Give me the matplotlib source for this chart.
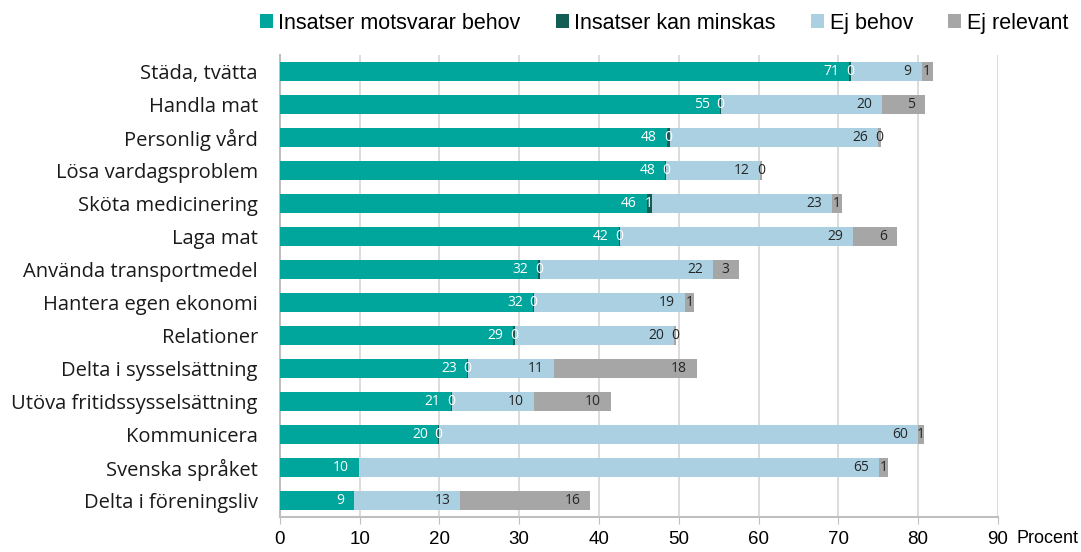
import matplotlib
matplotlib.use("Agg")
import matplotlib.pyplot as plt
import numpy as np

categories = ["Städa, tvätta", "Handla mat", "Personlig vård", "Lösa vardagsproblem",
              "Sköta medicinering", "Laga mat", "Använda transportmedel",
              "Hantera egen ekonomi", "Relationer", "Delta i sysselsättning",
              "Utöva fritidssysselsättning", "Kommunicera", "Svenska språket",
              "Delta i föreningsliv"]

motsvarar = [71.4, 55.2, 48.5, 48.3, 46.0, 42.5, 32.4, 31.7, 29.2, 23.4, 21.4, 19.8, 9.9, 9.3]
minskas = [0.15, 0.1, 0.45, 0.15, 0.6, 0.15, 0.15, 0.15, 0.3, 0.15, 0.15, 0.15, None, None]
ej_behov = [8.9, 20.2, 26.0, 11.7, 22.6, 29.2, 21.7, 18.9, 19.9, 10.8, 10.3, 60.1, 65.2, 13.3]
ej_relevant = [1.4, 5.4, 0.45, 0.3, 1.3, 5.5, 3.3, 1.2, 0.2, 17.9, 9.6, 0.7, 1.1, 16.3]

series = ["Insatser motsvarar behov", "Insatser kan minskas", "Ej behov", "Ej relevant"]
colors = ["#00a59c", "#135e54", "#abd0e2", "#a6a6a6"]
label_colors = ["white", "white", "#262626", "#262626"]

label_font = "Open Sans"
tick_font = ["Liberation Sans Narrow", "Liberation Sans", "DejaVu Sans"]

fig = plt.figure(figsize=(10.81, 5.52), dpi=100)
ax = fig.add_axes([0.259, 0.0634, 0.664, 0.837])

y = np.arange(len(categories))
left = np.zeros(len(categories))
for s, (name, vals) in enumerate(zip(series, [motsvarar, minskas, ej_behov, ej_relevant])):
    v = np.array([0 if x is None else x for x in vals], dtype=float)
    ax.barh(y, v, left=left, height=0.57, color=colors[s], label=name, zorder=3)
    for i, val in enumerate(vals):
        if val is None:
            continue
        txt = str(int(round(val)))
        if val < 2.5:
            ax.text(left[i] + val / 2, y[i], txt, ha="center", va="center",
                    fontsize=10, color=label_colors[s], family=label_font, zorder=4)
        else:
            ax.text(left[i] + val - 1.25, y[i], txt, ha="right", va="center",
                    fontsize=10, color=label_colors[s], family=label_font, zorder=4)
    left += v

ax.set_xlim(0, 90)
ax.set_ylim(13.5, -0.5)
ax.set_xticks(np.arange(0, 91, 10))
ax.set_yticks(y)
ax.set_yticklabels(categories, fontsize=14.5, family=label_font, color="#1a1a1a")
ax.tick_params(axis="y", length=0, pad=16)
ax.tick_params(axis="x", length=5, color="#bfbfbf", labelsize=13.5, pad=5)
for lab in ax.get_xticklabels():
    lab.set_family(tick_font)
ax.grid(axis="x", color="#d9d9d9", linewidth=1.3, zorder=0)
for side in ["top", "right"]:
    ax.spines[side].set_visible(False)
for side in ["left", "bottom"]:
    ax.spines[side].set_color("#bfbfbf")
    ax.spines[side].set_linewidth(1.5)

ax.text(1.026, -0.046, "Procent", transform=ax.transAxes, fontsize=13,
        family=tick_font, ha="left", va="center")

ax.legend(loc="upper left", bbox_to_anchor=(-0.04, 1.11), ncol=4, frameon=False,
          prop={"family": tick_font, "size": 15.5}, handlelength=0.6, handleheight=0.6,
          handletextpad=0.25, columnspacing=1.65, borderaxespad=0)

fig.savefig("out.png", dpi=100)
